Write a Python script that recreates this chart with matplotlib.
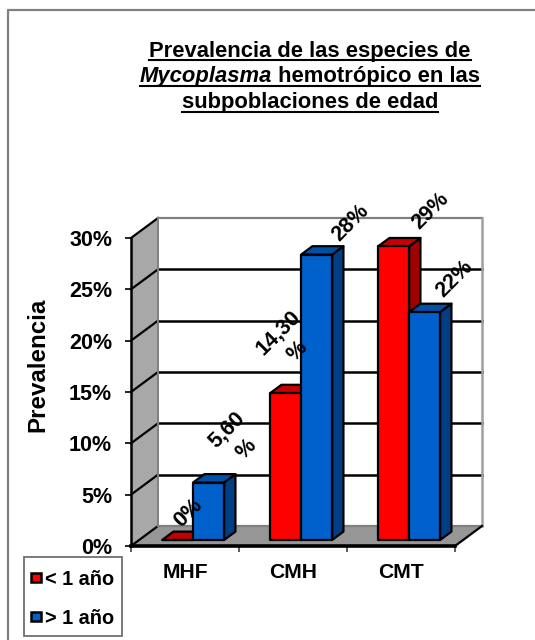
import matplotlib
matplotlib.use('Agg')
import matplotlib.pyplot as plt
from matplotlib.patches import Polygon, Rectangle
from matplotlib.lines import Line2D

plt.rcParams['font.family'] = ['Liberation Sans', 'DejaVu Sans']
plt.rcParams['font.weight'] = 'bold'

categories = ['MHF', 'CMH', 'CMT']
series_names = ['< 1 año', '> 1 año']
under_1 = [0, 14.3, 28.6]
over_1 = [5.6, 27.8, 22.2]
labels_under = ['0%', '14,30\n%', '29%']
labels_over = ['5,60\n%', '28%', '22%']
y_ticks = [0, 5, 10, 15, 20, 25, 30]
y_ticklabels = ['0%', '5%', '10%', '15%', '20%', '25%', '30%']

W, H = 535, 640
# fake 3d: how far the back wall sits from the front plane, in data units
wall_dx = 27 / 108
wall_dy = 20 / 10.27
bar_w = 31 / 108
bar_front = 0.30
bar_back = 0.72

red, red_side, red_top = '#ff0000', '#a00000', '#c40000'
blue, blue_side, blue_top = '#0060cc', '#003f85', '#0050a8'
wall_col = '#a8a8a8'
floor_col = '#969696'

def proj(x, y, d):
    return (x + d * wall_dx, y + d * wall_dy)

fig = plt.figure(figsize=(W / 100, H / 100), dpi=100, facecolor='white')
ax = fig.add_axes([131 / W, 1 - 546 / H, 324 / W, 308 / H])
ax.set_facecolor('none')
ax.set_xlim(-0.5, 2.5)
ax.set_ylim(0, 30)

# outer frame, only left and top show up in the picture
fig.add_artist(Line2D([8 / W, 8 / W, 1], [0, 1 - 10 / H, 1 - 10 / H], color='#808080', lw=1.6))

x0, x1 = -0.5, 2.5
ymax = y_ticks[-1]
ax.add_patch(Polygon([proj(x0, 0, 0), proj(x0, 0, 1), proj(x0, ymax, 1), proj(x0, ymax, 0)],
                     fc=wall_col, ec='none', clip_on=False, zorder=1))
ax.add_patch(Polygon([proj(x0, 0, 0), proj(x1, 0, 0), proj(x1, 0, 1), proj(x0, 0, 1)],
                     fc=floor_col, ec='none', clip_on=False, zorder=1))

# gridlines across the left wall and back wall
for v in y_ticks:
    a, b, c = proj(x0, v, 0), proj(x0, v, 1), proj(x1, v, 1)
    ax.plot([a[0], b[0]], [a[1], b[1]], color='black', lw=1.6, clip_on=False, zorder=2)
    if 0 < v < ymax:
        ax.plot([b[0], c[0]], [b[1], c[1]], color='black', lw=1.8, clip_on=False, zorder=2)
    else:
        ax.plot([b[0], c[0]], [b[1], c[1]], color='#808080', lw=1.6, clip_on=False, zorder=2)
a, b = proj(x1, 0, 1), proj(x1, ymax, 1)
ax.plot([a[0], b[0]], [a[1], b[1]], color='#a0a0a0', lw=1.8, clip_on=False, zorder=2)
a, b = proj(x0, 0, 1), proj(x0, ymax, 1)
ax.plot([a[0], b[0]], [a[1], b[1]], color='#808080', lw=1.4, clip_on=False, zorder=2)
a, b = proj(x1, 0, 0), proj(x1, 0, 1)
ax.plot([a[0], b[0]], [a[1], b[1]], color='black', lw=1.6, clip_on=False, zorder=2)

def draw_bar(left, value, face, side, top, z):
    right = left + bar_w
    f0 = proj(left, 0, bar_front)
    f1 = proj(right, 0, bar_front)
    f2 = proj(right, value, bar_front)
    f3 = proj(left, value, bar_front)
    b1 = proj(right, 0, bar_back)
    b2 = proj(right, value, bar_back)
    b3 = proj(left, value, bar_back)
    kw = dict(ec='black', lw=1.6, joinstyle='round', clip_on=False, zorder=z)
    ax.add_patch(Polygon([f1, b1, b2, f2], fc=side, **kw))
    ax.add_patch(Polygon([f3, f2, b2, b3], fc=top, **kw))
    ax.add_patch(Polygon([f0, f1, f2, f3], fc=face, **kw))
    return ((f0[0] + f1[0]) / 2, f2[1])

# pixel offset of each value label from the top of its bar
off_under = [(11, 27), (2, 51), (37, 35)]
off_over = [(28, 43), (34, 32), (30, 33)]

z = 3
for i in range(len(categories)):
    p = draw_bar(i - bar_w, under_1[i], red, red_side, red_top, z)
    ax.annotate(labels_under[i], xy=p, xytext=off_under[i], textcoords='offset pixels',
                rotation=45, ha='center', va='center', fontsize=15.5, zorder=10,
                annotation_clip=False, linespacing=1.35)
    z += 1
    p = draw_bar(i, over_1[i], blue, blue_side, blue_top, z)
    ax.annotate(labels_over[i], xy=p, xytext=off_over[i], textcoords='offset pixels',
                rotation=45, ha='center', va='center', fontsize=15.5, zorder=10,
                annotation_clip=False, linespacing=1.35)
    z += 1

for s in ['top', 'right']:
    ax.spines[s].set_visible(False)
ax.spines['left'].set_linewidth(1.8)
ax.spines['bottom'].set_linewidth(2.6)
ax.spines['left'].set_zorder(9)
ax.spines['bottom'].set_zorder(9)

ax.set_yticks(y_ticks)
ax.set_yticklabels(y_ticklabels, fontsize=15.5, fontweight='bold')
ax.tick_params(axis='y', length=4.5, width=1.2, pad=9)
ax.set_xticks([-0.5, 0.5, 1.5, 2.5])
ax.set_xticklabels([])
ax.tick_params(axis='x', which='major', length=4.5, width=1.2, color='#404040')
ax.set_xticks([0, 1, 2], minor=True)
ax.set_xticklabels(categories, minor=True, fontsize=15.2, fontweight='bold')
ax.tick_params(axis='x', which='minor', length=0, pad=12)

fig.text(38 / W, 1 - 364.5 / H, 'Prevalencia', rotation=90, ha='center', va='center',
         fontsize=17.4, fontweight='bold')

# legend box, drawn by hand to get the same loose spacing
fig.add_artist(Rectangle((23.5 / W, 1 - 636 / H), 98.5 / W, 79 / H, transform=fig.transFigure,
                         fc='white', ec='#707070', lw=1.3))
for name, col, yc in zip(series_names, [red, blue], [577, 616]):
    fig.add_artist(Rectangle((31 / W, 1 - (yc + 4.5) / H), 10 / W, 9 / H, transform=fig.transFigure,
                             fc=col, ec='black', lw=1.8))
    fig.text(45 / W, 1 - (yc + 0.5) / H, name, fontsize=14.3, fontweight='bold', ha='left', va='center_baseline')

# title: matplotlib has no underline so measure the text and draw it
fig.canvas.draw()
rend = fig.canvas.get_renderer()
cx = 310

def underlined(parts, base_y):
    texts = []
    total = 0
    for s, style in parts:
        t = fig.text(0, 1 - base_y / H, s, fontsize=15.8, fontweight='bold', fontstyle=style,
                     ha='left', va='baseline')
        w = t.get_window_extent(rend).width
        texts.append((t, w))
        total += w
    x = cx - total / 2
    for t, w in texts:
        t.set_x(x / W)
        x += w
    fig.add_artist(Line2D([(cx - total / 2) / W, (cx + total / 2) / W],
                          [1 - (base_y + 3.5) / H] * 2, color='black', lw=1.5))

underlined([('Prevalencia de las especies de', 'normal')], 56.5)
underlined([('Mycoplasma', 'italic'), ('\u00a0hemotrópico en las', 'normal')], 82)
underlined([('subpoblaciones de edad', 'normal')], 108)

fig.savefig('out.png', dpi=100)
